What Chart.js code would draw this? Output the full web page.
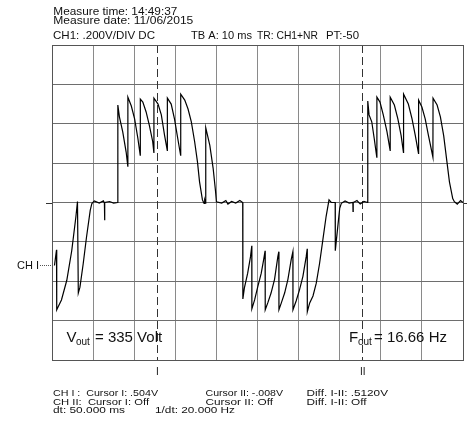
<!DOCTYPE html>
<html>
<head>
<meta charset="utf-8">
<script src="https://cdn.jsdelivr.net/npm/chart.js@4"></script>
<style>
  html, body { margin: 0; padding: 0; background: #fff; }
  #wrap { width: 467px; height: 421px; }
</style>
</head>
<body>
<div id="wrap"><canvas id="scope" width="467" height="421"></canvas></div>
<script>
// CH1 trace: time in ms, level in volts
const timeMs = [
  0.6, 1.1, 1.15, 1.5, 2.3, 3.6, 4.8, 5.8, 6.2, 6.4, 6.8, 7.6, 8.4, 9.3, 9.7,
  10.3, 11.5, 12.5, 12.75, 12.8, 12.85, 14.0, 15.0, 16.0,
  16.02, 16.4, 17.2, 18.05, 18.44, 18.46, 19.3, 20.1, 20.9, 21.46, 21.49, 22.1, 22.9, 23.7, 24.5, 24.78,
  24.8, 25.8, 26.6, 27.4, 28.05, 28.07, 29.0, 29.8, 30.6, 31.29, 31.32, 32.3, 33.1, 33.9, 34.7, 35.4,
  35.9, 36.6, 37.0, 37.15, 37.39, 37.41, 38.4, 39.2, 39.8, 40.0,
  41.3, 42.3, 42.8, 43.7, 44.7, 45.7, 46.4,
  46.44, 46.8, 47.6, 48.3, 48.61, 48.63, 49.3, 50.1, 50.9, 51.5, 51.85, 51.88, 52.5, 53.3, 54.15, 54.95, 55.19,
  55.22, 55.8, 56.6, 57.4, 58.2, 58.61, 58.63, 59.4, 60.2, 61.05, 61.85, 62.1, 62.12, 62.7, 63.5, 64.3,
  65.1, 65.9, 66.7, 67.4, 67.95, 68.9, 68.93, 69.2, 69.6, 70.0, 70.4,
  71.3, 72.3, 73.2, 73.24, 73.29, 74.2, 75.0, 75.9, 76.8,
  76.83, 77.15, 77.8, 78.4, 79.02, 79.05, 79.8, 80.6, 81.5, 82.27, 82.29, 83.3, 84.15, 84.95, 85.51,
  85.54, 86.7, 87.6, 88.4, 89.17, 89.2, 90.0, 90.8, 91.6, 92.68, 92.71, 93.7, 94.5, 95.3, 96.1,
  96.7, 97.5, 97.9, 98.6, 99.4, 100
];
const ch1Volts = [
  -0.32, -0.24, -0.545, -0.53, -0.495, -0.395, -0.245, -0.075, 0.005, -0.46, -0.43, -0.31, -0.175, -0.04, -0.005,
  0.008, -0.003, 0.008, -0.003, -0.09, 0, 0.005, -0.003, 0,
  0.495, 0.435, 0.36, 0.255, 0.185, 0.535, 0.49, 0.425, 0.325, 0.24, 0.525, 0.51, 0.46, 0.39, 0.31, 0.255,
  0.53, 0.5, 0.445, 0.34, 0.265, 0.53, 0.5, 0.425, 0.325, 0.24, 0.55, 0.52, 0.475, 0.41, 0.31, 0.205,
  0.105, 0.013, -0.004, 0.013, -0.003, 0.38, 0.29, 0.175, 0.055, 0.004,
  -0.003, 0.01, -0.008, 0.005, -0.003, 0.01, 0,
  -0.49, -0.435, -0.36, -0.275, -0.22, -0.54, -0.495, -0.425, -0.36, -0.29, -0.245, -0.545, -0.51, -0.46, -0.39, -0.275, -0.25,
  -0.545, -0.51, -0.46, -0.39, -0.29, -0.25, -0.545, -0.5, -0.445, -0.375, -0.275, -0.235, -0.555, -0.51, -0.475, -0.41,
  -0.31, -0.19, -0.07, 0.013, 0, 0, -0.245, -0.19, -0.11, -0.03, -0.004,
  0.008, -0.003, 0, -0.045, 0, 0.01, -0.008, 0.005, 0,
  0.515, 0.445, 0.41, 0.325, 0.23, 0.535, 0.51, 0.445, 0.36, 0.265, 0.535, 0.495, 0.425, 0.34, 0.255,
  0.55, 0.5, 0.425, 0.34, 0.25, 0.52, 0.485, 0.425, 0.34, 0.23, 0.53, 0.495, 0.435, 0.34, 0.205,
  0.105, 0.02, 0.004, -0.008, 0.01, 0
];
// 10 ms/div, 0.2 V/div
const timeRange = [0, 100];
const voltRange = [-0.8, 0.8];
const timePerDiv = 10;
const voltPerDiv = 0.2;
const cursorTimes = [25.5, 75.5];
const cursorNames = ['I', 'II'];

const headerLines = ['Measure time: 14:49:37', 'Measure date: 11/06/2015'];
const settingsLine = ['CH1: .200V/DIV DC', 'TB A: 10 ms', 'TR: CH1+NR', 'PT:-50'];
const readoutRows = [
  ['CH I :  Cursor I: .504V', 'Cursor II: -.008V', 'Diff. I-II: .5120V'],
  ['CH II:  Cursor I: Off', 'Cursor II: Off', 'Diff. I-II: Off'],
  ['dt: 50.000 ms', '1/dt: 20.000 Hz']
];

const points = timeMs.map((t, i) => ({ x: t, y: ch1Volts[i] }));
const FONT = '"Liberation Sans", Arial, sans-serif';

// draw text stretched/squeezed to a given width
function fitText(ctx, s, x, y, w) {
  const nat = ctx.measureText(s).width;
  ctx.save();
  ctx.translate(x, y);
  ctx.scale(w / nat, 1);
  ctx.fillText(s, 0, 0);
  ctx.restore();
}

const scopeDecor = {
  id: 'scopeDecor',
  beforeDatasetsDraw(chart) {
    const { ctx, chartArea: a, scales: { x } } = chart;
    ctx.save();
    ctx.strokeStyle = '#333';
    ctx.lineWidth = 1;
    ctx.setLineDash([8, 4]);
    cursorTimes.forEach(t => {
      const px = Math.round(x.getPixelForValue(t)) + 0.5;
      ctx.beginPath();
      ctx.moveTo(px, a.top);
      ctx.lineTo(px, a.bottom);
      ctx.stroke();
    });
    ctx.restore();
  },
  afterDraw(chart) {
    const { ctx, chartArea: a, scales: { x, y } } = chart;
    ctx.save();
    ctx.fillStyle = '#111';
    ctx.textBaseline = 'alphabetic';

    // header
    ctx.font = '11.5px ' + FONT;
    fitText(ctx, headerLines[0], 53.3, 14.7, 124);
    fitText(ctx, headerLines[1], 53.3, 24, 140);
    ctx.font = '11px ' + FONT;
    const setX = [53, 191, 257, 326], setW = [102, 61, 61, 33];
    settingsLine.forEach((s, i) => fitText(ctx, s, setX[i], 39, setW[i]));

    // ground markers
    const gy = Math.round(y.getPixelForValue(0)) + 0.5;
    ctx.strokeStyle = '#333';
    ctx.lineWidth = 1;
    ctx.beginPath();
    ctx.moveTo(46, gy); ctx.lineTo(a.left, gy);
    ctx.moveTo(a.right, gy); ctx.lineTo(467, gy);
    ctx.stroke();

    // CH I reference label
    ctx.font = '11px ' + FONT;
    ctx.fillText('CH I', 17, 269);
    ctx.setLineDash([1, 1]);
    ctx.strokeStyle = '#555';
    ctx.beginPath();
    ctx.moveTo(40, 265.5); ctx.lineTo(a.left, 265.5);
    ctx.stroke();
    ctx.setLineDash([]);

    // measurement labels in the plot
    ctx.font = '15px ' + FONT;
    ctx.fillText('V', 66.5, 342);
    ctx.fillText('= 335 Volt', 95, 342);
    ctx.fillText('F', 349, 342);
    ctx.fillText('= 16.66 Hz', 374, 342);
    ctx.font = '10px ' + FONT;
    ctx.fillText('out', 76, 344.5);
    ctx.fillText('out', 358, 344.5);

    // cursor names
    ctx.font = '10px ' + FONT;
    ctx.textAlign = 'center';
    cursorTimes.forEach((t, i) => ctx.fillText(cursorNames[i], x.getPixelForValue(t) + 0.5, 375));
    ctx.textAlign = 'left';

    // readouts
    ctx.font = '9.5px ' + FONT;
    const colX = [53, 205.5, 306.5];
    const widths = [[105, 77.5, 81.5], [96, 67.5, 60], [72, 80]];
    const rowY = [396, 404.5, 413];
    readoutRows.forEach((row, r) => {
      row.forEach((s, c) => {
        const cx = r === 2 && c === 1 ? 155 : colX[c];
        fitText(ctx, s, cx, rowY[r], widths[r][c]);
      });
    });
    ctx.restore();
  }
};

new Chart(document.getElementById('scope'), {
  type: 'line',
  data: {
    datasets: [{
      label: 'CH1',
      data: points,
      borderColor: '#000',
      borderWidth: 1.2,
      pointRadius: 0,
      tension: 0,
      fill: false
    }]
  },
  options: {
    responsive: false,
    animation: false,
    events: [],
    layout: { padding: { left: 52, right: 4, top: 45, bottom: 61 } },
    plugins: { legend: { display: false }, tooltip: { enabled: false } },
    scales: {
      x: {
        type: 'linear',
        min: timeRange[0], max: timeRange[1],
        ticks: { display: false, stepSize: timePerDiv },
        grid: { color: '#8a8a8a', lineWidth: 1, drawTicks: false },
        border: { display: true, color: '#555', width: 1 }
      },
      y: {
        type: 'linear',
        min: voltRange[0], max: voltRange[1],
        ticks: { display: false, stepSize: voltPerDiv },
        grid: { color: '#6e6e6e', lineWidth: 1, drawTicks: false },
        border: { display: true, color: '#555', width: 1 }
      }
    }
  },
  plugins: [scopeDecor, {
    id: 'frame',
    afterDraw(chart) {
      const { ctx, chartArea: a } = chart;
      ctx.save();
      ctx.strokeStyle = '#555';
      ctx.lineWidth = 1;
      ctx.strokeRect(Math.round(a.left) + 0.5, Math.round(a.top) + 0.5,
        Math.round(a.right - a.left), Math.round(a.bottom - a.top));
      ctx.restore();
    }
  }, {
    id: 'bg',
    beforeDraw(chart) {
      const { ctx } = chart;
      ctx.save();
      ctx.fillStyle = '#fff';
      ctx.fillRect(0, 0, chart.width, chart.height);
      ctx.restore();
    }
  }]
});
</script>
</body>
</html>
